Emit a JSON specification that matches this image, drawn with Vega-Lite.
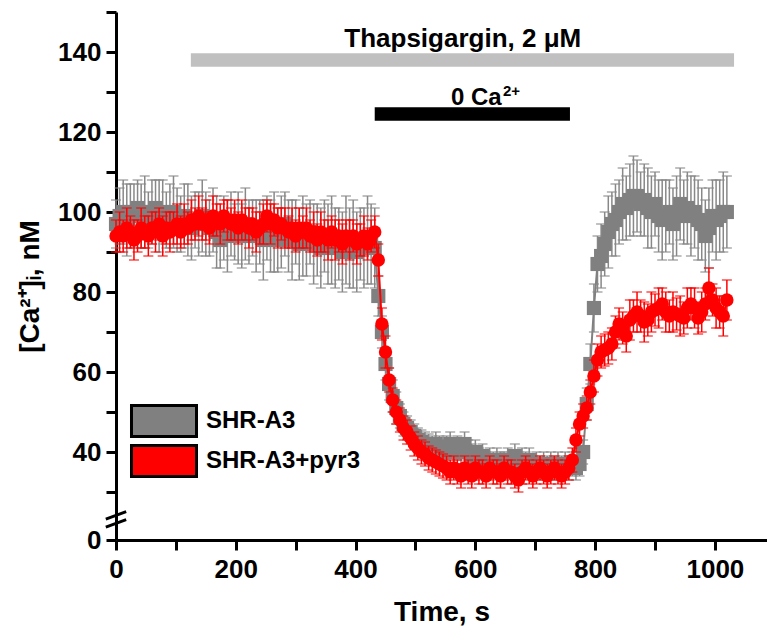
{
"$schema": "https://vega.github.io/schema/vega-lite/v6.json",
"width": 651,
"height": 528,
"autosize": {"type": "none"},
"padding": {"left": 116, "top": 12, "right": 0, "bottom": 97},
"background": "white",
"config": {
  "view": {"stroke": null},
  "font": "Liberation Sans",
  "axis": {"domainColor": "black", "domainWidth": 3, "tickColor": "black", "tickWidth": 3, "tickSize": 10, "grid": false,
    "labelFont": "Liberation Sans", "labelFontWeight": "bold", "labelFontSize": 26, "labelColor": "black",
    "titleFont": "Liberation Sans", "titleFontWeight": "bold", "titleFontSize": 28, "titleColor": "black",
    "labelFlush": false, "labelOverlap": false}
},
"datasets": {
"g": [
{"t":0,"m":97,"e":6},{"t":6,"m":99,"e":7},{"t":12,"m":100,"e":8},{"t":18,"m":98,"e":9},{"t":24,"m":100,"e":7},{"t":30,"m":99,"e":8},{"t":36,"m":101,"e":7},{"t":42,"m":99,"e":8},{"t":48,"m":100,"e":9},{"t":54,"m":98,"e":7},{"t":60,"m":100,"e":8},{"t":66,"m":101,"e":7},{"t":72,"m":99,"e":9},{"t":78,"m":100,"e":8},{"t":84,"m":98,"e":7},{"t":90,"m":99,"e":8},{"t":96,"m":100,"e":9},{"t":102,"m":98,"e":8},{"t":108,"m":97,"e":7},{"t":114,"m":99,"e":8},{"t":120,"m":98,"e":9},{"t":126,"m":96,"e":8},{"t":132,"m":98,"e":7},{"t":138,"m":97,"e":8},{"t":144,"m":99,"e":9},{"t":150,"m":97,"e":8},{"t":156,"m":96,"e":7},{"t":162,"m":98,"e":8},{"t":168,"m":95,"e":9},{"t":174,"m":93,"e":7},{"t":180,"m":96,"e":8},{"t":186,"m":94,"e":9},{"t":192,"m":97,"e":8},{"t":198,"m":95,"e":7},{"t":204,"m":96,"e":9},{"t":210,"m":94,"e":8},{"t":216,"m":97,"e":9},{"t":222,"m":95,"e":8},{"t":228,"m":96,"e":7},{"t":234,"m":94,"e":9},{"t":240,"m":95,"e":8},{"t":246,"m":93,"e":10},{"t":252,"m":96,"e":8},{"t":258,"m":94,"e":9},{"t":264,"m":95,"e":10},{"t":270,"m":93,"e":8},{"t":276,"m":95,"e":9},{"t":282,"m":97,"e":8},{"t":288,"m":94,"e":9},{"t":294,"m":93,"e":10},{"t":300,"m":95,"e":8},{"t":306,"m":92,"e":9},{"t":312,"m":94,"e":10},{"t":318,"m":93,"e":9},{"t":324,"m":95,"e":8},{"t":330,"m":92,"e":10},{"t":336,"m":93,"e":9},{"t":342,"m":91,"e":10},{"t":348,"m":94,"e":9},{"t":354,"m":92,"e":10},{"t":360,"m":93,"e":11},{"t":366,"m":91,"e":10},{"t":372,"m":92,"e":9},{"t":378,"m":90,"e":10},{"t":384,"m":93,"e":11},{"t":390,"m":91,"e":10},{"t":396,"m":92,"e":11},{"t":402,"m":90,"e":10},{"t":408,"m":92,"e":9},{"t":414,"m":91,"e":10},{"t":420,"m":93,"e":11},{"t":426,"m":92,"e":10},{"t":432,"m":91,"e":10},
{"t":438,"m":79,"e":5},{"t":444,"m":70,"e":4},{"t":450,"m":62,"e":4},{"t":456,"m":57,"e":4},{"t":462,"m":54,"e":4},{"t":468,"m":51,"e":4},{"t":474,"m":49,"e":3},{"t":480,"m":47,"e":3},{"t":486,"m":46,"e":3},{"t":492,"m":45,"e":3},{"t":498,"m":44,"e":3},{"t":504,"m":43,"e":3},{"t":510,"m":42.5,"e":3},{"t":516,"m":42,"e":3},{"t":522,"m":41.5,"e":3},{"t":528,"m":41,"e":3},{"t":534,"m":42,"e":3},{"t":540,"m":41,"e":3},{"t":546,"m":40,"e":3},{"t":552,"m":41,"e":3},{"t":558,"m":42,"e":3},{"t":564,"m":40,"e":3},{"t":570,"m":41,"e":3},{"t":576,"m":40,"e":3},{"t":582,"m":42,"e":3},{"t":588,"m":40,"e":3},{"t":594,"m":39,"e":3},{"t":600,"m":40,"e":3},{"t":606,"m":38,"e":3},{"t":612,"m":39,"e":3},{"t":618,"m":37,"e":3},{"t":624,"m":38,"e":3},{"t":630,"m":37,"e":3},{"t":636,"m":38,"e":3},{"t":642,"m":37,"e":3},{"t":648,"m":37,"e":3},{"t":654,"m":38,"e":3},{"t":660,"m":37,"e":3},{"t":666,"m":39,"e":3},{"t":672,"m":37,"e":3},{"t":678,"m":38,"e":3},{"t":684,"m":37,"e":3},{"t":690,"m":38,"e":3},{"t":696,"m":36,"e":3},{"t":702,"m":37,"e":3},{"t":708,"m":36,"e":3},{"t":714,"m":37,"e":3},{"t":720,"m":36,"e":3},{"t":726,"m":37,"e":3},{"t":732,"m":36,"e":3},{"t":738,"m":37,"e":3},{"t":744,"m":36,"e":3},{"t":750,"m":37,"e":3},{"t":756,"m":36,"e":3},{"t":762,"m":37,"e":3},{"t":768,"m":36,"e":3},{"t":774,"m":37,"e":3},{"t":780,"m":40,"e":3},
{"t":786,"m":52,"e":4},{"t":792,"m":62,"e":5},{"t":798,"m":76,"e":6},{"t":804,"m":87,"e":7},{"t":810,"m":89,"e":8},{"t":816,"m":92,"e":8},{"t":822,"m":95,"e":9},{"t":828,"m":97,"e":8},{"t":834,"m":98,"e":9},{"t":840,"m":100,"e":8},{"t":846,"m":102,"e":9},{"t":852,"m":101,"e":8},{"t":858,"m":103,"e":9},{"t":864,"m":104,"e":10},{"t":870,"m":104,"e":9},{"t":876,"m":102,"e":8},{"t":882,"m":103,"e":9},{"t":888,"m":101,"e":10},{"t":894,"m":100,"e":9},{"t":900,"m":102,"e":8},{"t":906,"m":99,"e":9},{"t":912,"m":98,"e":10},{"t":918,"m":99,"e":9},{"t":924,"m":100,"e":8},{"t":930,"m":97,"e":9},{"t":936,"m":99,"e":10},{"t":942,"m":102,"e":9},{"t":948,"m":100,"e":8},{"t":954,"m":101,"e":9},{"t":960,"m":99,"e":10},{"t":966,"m":100,"e":9},{"t":972,"m":98,"e":10},{"t":978,"m":97,"e":9},{"t":984,"m":94,"e":9},{"t":990,"m":96,"e":10},{"t":996,"m":99,"e":9},{"t":1002,"m":98,"e":10},{"t":1008,"m":99,"e":9},{"t":1014,"m":100,"e":10},{"t":1020,"m":100,"e":9}
],
"r": [
{"t":0,"m":94,"e":4},{"t":6,"m":95,"e":5},{"t":12,"m":94,"e":4},{"t":18,"m":96,"e":5},{"t":24,"m":95,"e":4},{"t":30,"m":93,"e":5},{"t":36,"m":94,"e":4},{"t":42,"m":96,"e":5},{"t":48,"m":95,"e":4},{"t":54,"m":94,"e":5},{"t":60,"m":96,"e":4},{"t":66,"m":95,"e":5},{"t":72,"m":97,"e":4},{"t":78,"m":94,"e":5},{"t":84,"m":96,"e":4},{"t":90,"m":95,"e":5},{"t":96,"m":96,"e":4},{"t":102,"m":97,"e":5},{"t":108,"m":95,"e":4},{"t":114,"m":97,"e":5},{"t":120,"m":96,"e":4},{"t":126,"m":98,"e":5},{"t":132,"m":97,"e":4},{"t":138,"m":99,"e":5},{"t":144,"m":97,"e":4},{"t":150,"m":98,"e":5},{"t":156,"m":96,"e":4},{"t":162,"m":99,"e":5},{"t":168,"m":98,"e":4},{"t":174,"m":97,"e":5},{"t":180,"m":99,"e":4},{"t":186,"m":98,"e":5},{"t":192,"m":97,"e":4},{"t":198,"m":98,"e":5},{"t":204,"m":96,"e":4},{"t":210,"m":98,"e":5},{"t":216,"m":97,"e":4},{"t":222,"m":96,"e":5},{"t":228,"m":97,"e":4},{"t":234,"m":95,"e":5},{"t":240,"m":96,"e":4},{"t":246,"m":97,"e":5},{"t":252,"m":99,"e":4},{"t":258,"m":97,"e":5},{"t":264,"m":98,"e":4},{"t":270,"m":96,"e":5},{"t":276,"m":97,"e":4},{"t":282,"m":96,"e":5},{"t":288,"m":95,"e":4},{"t":294,"m":96,"e":5},{"t":300,"m":94,"e":4},{"t":306,"m":96,"e":5},{"t":312,"m":95,"e":4},{"t":318,"m":96,"e":5},{"t":324,"m":94,"e":4},{"t":330,"m":95,"e":5},{"t":336,"m":93,"e":4},{"t":342,"m":95,"e":5},{"t":348,"m":94,"e":4},{"t":354,"m":93,"e":5},{"t":360,"m":95,"e":4},{"t":366,"m":93,"e":5},{"t":372,"m":94,"e":4},{"t":378,"m":92,"e":5},{"t":384,"m":94,"e":4},{"t":390,"m":93,"e":5},{"t":396,"m":94,"e":4},{"t":402,"m":92,"e":5},{"t":408,"m":93,"e":4},{"t":414,"m":94,"e":5},{"t":420,"m":92,"e":4},{"t":426,"m":94,"e":4},{"t":432,"m":95,"e":4},
{"t":438,"m":88,"e":4},{"t":444,"m":72,"e":4},{"t":450,"m":65,"e":4},{"t":456,"m":58,"e":3},{"t":462,"m":53,"e":3},{"t":468,"m":50,"e":3},{"t":474,"m":48,"e":3},{"t":480,"m":46,"e":3},{"t":486,"m":45,"e":3},{"t":492,"m":43.5,"e":3},{"t":498,"m":42,"e":3},{"t":504,"m":41,"e":3},{"t":510,"m":40,"e":3},{"t":516,"m":39.5,"e":3},{"t":522,"m":38.5,"e":3},{"t":528,"m":38,"e":3},{"t":534,"m":37.5,"e":3},{"t":540,"m":37,"e":3},{"t":546,"m":36.5,"e":3},{"t":552,"m":36,"e":3},{"t":558,"m":35,"e":3},{"t":564,"m":36,"e":3},{"t":570,"m":35,"e":3},{"t":576,"m":34,"e":3},{"t":582,"m":36,"e":3},{"t":588,"m":35,"e":3},{"t":594,"m":34,"e":3},{"t":600,"m":36,"e":3},{"t":606,"m":35,"e":3},{"t":612,"m":35,"e":3},{"t":618,"m":34,"e":3},{"t":624,"m":36,"e":3},{"t":630,"m":35,"e":3},{"t":636,"m":35,"e":3},{"t":642,"m":34,"e":3},{"t":648,"m":36,"e":3},{"t":654,"m":35,"e":3},{"t":660,"m":35,"e":3},{"t":666,"m":34,"e":3},{"t":672,"m":33,"e":3},{"t":678,"m":35,"e":3},{"t":684,"m":36,"e":3},{"t":690,"m":35,"e":3},{"t":696,"m":34,"e":3},{"t":702,"m":35,"e":3},{"t":708,"m":36,"e":3},{"t":714,"m":35,"e":3},{"t":720,"m":34,"e":3},{"t":726,"m":35,"e":3},{"t":732,"m":36,"e":3},{"t":738,"m":35,"e":3},{"t":744,"m":34,"e":3},{"t":750,"m":35,"e":3},{"t":756,"m":36,"e":3},{"t":762,"m":38,"e":3},
{"t":768,"m":43,"e":3},{"t":774,"m":47,"e":3},{"t":780,"m":49,"e":3},{"t":786,"m":51,"e":3},{"t":792,"m":55,"e":3},{"t":798,"m":59,"e":4},{"t":804,"m":63,"e":4},{"t":810,"m":65,"e":4},{"t":816,"m":65.5,"e":4},{"t":822,"m":66,"e":4},{"t":828,"m":67,"e":4},{"t":834,"m":70,"e":4},{"t":840,"m":72,"e":4},{"t":846,"m":71,"e":4},{"t":852,"m":69,"e":4},{"t":858,"m":73,"e":5},{"t":864,"m":74,"e":4},{"t":870,"m":75,"e":5},{"t":876,"m":74,"e":4},{"t":882,"m":72.5,"e":5},{"t":888,"m":73,"e":4},{"t":894,"m":75,"e":5},{"t":900,"m":75.5,"e":4},{"t":906,"m":76,"e":5},{"t":912,"m":77,"e":4},{"t":918,"m":75,"e":5},{"t":924,"m":74,"e":4},{"t":930,"m":75,"e":5},{"t":936,"m":74.5,"e":4},{"t":942,"m":74,"e":5},{"t":948,"m":73.5,"e":4},{"t":954,"m":76,"e":5},{"t":960,"m":77,"e":4},{"t":966,"m":76,"e":5},{"t":972,"m":73.5,"e":4},{"t":978,"m":75,"e":5},{"t":984,"m":77,"e":4},{"t":990,"m":81,"e":5},{"t":996,"m":78,"e":4},{"t":1002,"m":76,"e":5},{"t":1008,"m":75,"e":4},{"t":1014,"m":74,"e":5},{"t":1020,"m":78,"e":5}
]
},
"layer": [
  {
    "data": {"name": "g"},
    "mark": {"type": "errorbar", "color": "#888888", "thickness": 1.5, "ticks": {"size": 10, "thickness": 1.5, "color": "#888888"}},
    "encoding": {
      "x": {"field": "t", "type": "quantitative", "title": "Time, s",
        "scale": {"domain": [0, 1087], "nice": false, "zero": false},
        "axis": {"title": "Time, s", "values": [0,100,200,300,400,500,600,700,800,900,1000], "format": "d",
          "labelExpr": "datum.value % 200 === 0 ? datum.label : ''", "labelPadding": 6, "titlePadding": 16,
          "encode": {"ticks": {"update": {"y2": {"signal": "datum.value % 200 === 0 ? 10 : 5"}}}}}},
      "y": {"field": "m", "type": "quantitative", "title": "[Ca²⁺]ᵢ, nM",
        "scale": {"domain": [18, 150], "nice": false, "zero": false},
        "axis": {"title": "[Ca²⁺]ᵢ, nM", "values": [18,30,40,50,60,70,80,90,100,110,120,130,140,150],
          "labelExpr": "datum.value === 18 ? '0' : (datum.value % 20 === 0 ? datum.label : '')", "labelPadding": 5,
          "titleX": -72, "titleY": 274,
          "encode": {"ticks": {"update": {"x2": {"signal": "(datum.value === 18 || datum.value % 20 === 0) ? -10 : -5"}}}}}},
      "yError": {"field": "e"}
    }
  },
  {
    "data": {"name": "g"},
    "mark": {"type": "line", "color": "#808080", "strokeWidth": 2},
    "encoding": {"x": {"field": "t", "type": "quantitative", "title": "Time, s"}, "y": {"field": "m", "type": "quantitative", "title": "[Ca²⁺]ᵢ, nM"}}
  },
  {
    "data": {"name": "g"},
    "mark": {"type": "point", "shape": "square", "filled": true, "size": 200, "opacity": 1},
    "encoding": {
      "x": {"field": "t", "type": "quantitative", "title": "Time, s"},
      "y": {"field": "m", "type": "quantitative", "title": "[Ca²⁺]ᵢ, nM"},
      "color": {"datum": "SHR-A3", "type": "nominal",
        "scale": {"domain": ["SHR-A3", "SHR-A3+pyr3"], "range": ["#808080", "#ff0000"]},
        "legend": {"title": null, "orient": "none", "legendX": 14, "legendY": 391, "padding": 0,
          "symbolType": "M-1.97,-0.939H1.97V0.939H-1.97Z", "symbolSize": 1089, "symbolStrokeColor": "black", "symbolStrokeWidth": 3,
          "symbolOffset": 16, "labelOffset": 24, "rowPadding": -5, "symbolOpacity": 1,
          "labelFont": "Liberation Sans", "labelFontWeight": "bold", "labelFontSize": 24, "labelColor": "black",
          "encode": {"symbols": {"update": {"stroke": {"value": "black"}, "strokeWidth": {"value": 3}}}}}}
    }
  },
  {
    "data": {"name": "r"},
    "mark": {"type": "errorbar", "color": "#ff0000", "thickness": 1.5, "ticks": {"size": 10, "thickness": 1.5, "color": "#ff0000"}},
    "encoding": {"x": {"field": "t", "type": "quantitative", "title": "Time, s"}, "y": {"field": "m", "type": "quantitative", "title": "[Ca²⁺]ᵢ, nM"}, "yError": {"field": "e"}}
  },
  {
    "data": {"name": "r"},
    "mark": {"type": "line", "color": "#ff0000", "strokeWidth": 2},
    "encoding": {"x": {"field": "t", "type": "quantitative", "title": "Time, s"}, "y": {"field": "m", "type": "quantitative", "title": "[Ca²⁺]ᵢ, nM"}}
  },
  {
    "data": {"name": "r"},
    "mark": {"type": "point", "shape": "circle", "filled": true, "size": 180, "opacity": 1},
    "encoding": {
      "x": {"field": "t", "type": "quantitative", "title": "Time, s"},
      "y": {"field": "m", "type": "quantitative", "title": "[Ca²⁺]ᵢ, nM"},
      "color": {"datum": "SHR-A3+pyr3", "type": "nominal"}
    }
  },
  {
    "data": {"values": [{}]},
    "mark": {"type": "rule", "color": "#c0c0c0", "strokeWidth": 13.4, "strokeCap": "butt"},
    "encoding": {"x": {"datum": 125, "title": "Time, s"}, "x2": {"datum": 1032}, "y": {"datum": 138, "title": "[Ca²⁺]ᵢ, nM"}}
  },
  {
    "data": {"values": [{}]},
    "mark": {"type": "rule", "color": "#000000", "strokeWidth": 13.4, "strokeCap": "butt"},
    "encoding": {"x": {"datum": 432, "title": "Time, s"}, "x2": {"datum": 758}, "y": {"datum": 124.5, "title": "[Ca²⁺]ᵢ, nM"}}
  },
  {
    "data": {"values": [{}]},
    "mark": {"type": "text", "text": "Thapsigargin, 2 μM", "font": "Liberation Sans", "fontWeight": "bold", "fontSize": 26, "color": "black", "align": "center", "baseline": "alphabetic"},
    "encoding": {"x": {"datum": 579, "title": "Time, s"}, "y": {"datum": 141.3, "title": "[Ca²⁺]ᵢ, nM"}}
  },
  {
    "data": {"values": [{}]},
    "mark": {"type": "text", "text": "0 Ca", "font": "Liberation Sans", "fontWeight": "bold", "fontSize": 24, "color": "black", "align": "right", "baseline": "alphabetic"},
    "encoding": {"x": {"datum": 644, "title": "Time, s"}, "y": {"datum": 126.75, "title": "[Ca²⁺]ᵢ, nM"}}
  },
  {
    "data": {"values": [{}]},
    "mark": {"type": "text", "text": "2+", "font": "Liberation Sans", "fontWeight": "bold", "fontSize": 15, "color": "black", "align": "left", "baseline": "alphabetic"},
    "encoding": {"x": {"datum": 646, "title": "Time, s"}, "y": {"datum": 129, "title": "[Ca²⁺]ᵢ, nM"}}
  },
  {
    "data": {"values": [{}]},
    "mark": {"type": "rule", "color": "black", "strokeWidth": 3},
    "encoding": {"x": {"datum": -17, "title": "Time, s"}, "x2": {"datum": 17}, "y": {"datum": 23.2, "title": "[Ca²⁺]ᵢ, nM"}, "y2": {"datum": 25.1}}
  },
  {
    "data": {"values": [{}]},
    "mark": {"type": "rule", "color": "black", "strokeWidth": 3},
    "encoding": {"x": {"datum": -17, "title": "Time, s"}, "x2": {"datum": 17}, "y": {"datum": 21.2, "title": "[Ca²⁺]ᵢ, nM"}, "y2": {"datum": 23.1}}
  }
]
}
